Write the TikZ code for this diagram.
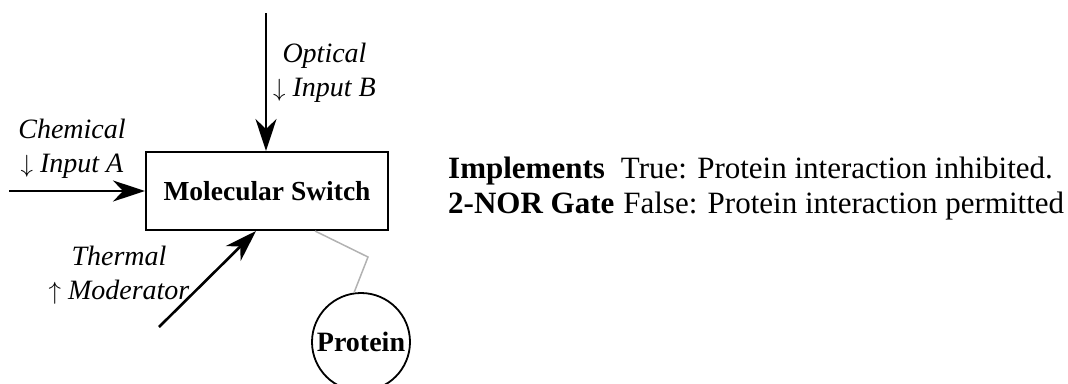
\documentclass[tikz,border=0pt]{standalone}
\usepackage{fontspec}
\setmainfont{Liberation Serif}
\usetikzlibrary{arrows.meta,positioning}

\begin{document}
\begin{tikzpicture}[
    x=1pt, y=-1pt,
    txt/.style={inner sep=0pt, align=center, font=\fontsize{28}{34.5}\selectfont\itshape},
    gatetxt/.style={inner sep=0pt, anchor=base west, font=\fontsize{31}{35}\selectfont},
    switchbox/.style={draw, line width=2pt, minimum width=242pt, minimum height=78pt, font=\fontsize{27.5}{33}\selectfont\bfseries},
    bubble/.style={draw, circle, line width=1.8pt, minimum size=98pt, inner sep=0pt, font=\fontsize{28}{33}\selectfont\bfseries},
    arrow/.style={line width=2.6pt, -{Stealth[length=32pt, width=21pt, inset=10pt]}},
    link/.style={line width=1.5pt, gray!60}
]
    \useasboundingbox (0,0) rectangle (1068,383);

    \node (switch) [switchbox] at (267,191) {Molecular Switch};
    \node (protein) [bubble] at (361,342) {Protein};

    \coordinate (optin) at (266,13);
    \coordinate (chemin) at (9,191);
    \coordinate (thermin) at (159,327);
    \coordinate (bend) at (368,257);

    \node (optlabel) [txt] at (324.5,73) {Optical\\$\downarrow$ Input B};
    \node (chemlabel) [txt] at (72,149) {Chemical\\$\downarrow$ Input A};
    \node (thermlabel) [txt] at (119,275) {Thermal\\$\uparrow$ Moderator};

    \node (implements) [gatetxt] at (448,178) {{\bfseries Implements}\hspace{16pt}True: Protein interaction inhibited.};
    \node (norgate) [gatetxt] at (448,213) {{\bfseries 2-NOR Gate}\hspace{9pt}False: Protein interaction permitted};

    \draw [arrow] (optin) -- (switch.north -| optin);
    \draw [arrow] (chemin) -- (switch.west);
    \draw [arrow] (thermin) -- (switch.south -| 256,0);
    \draw [link] (switch.south -| 315,0) -- (bend) -- (protein.98);
\end{tikzpicture}
\end{document}
